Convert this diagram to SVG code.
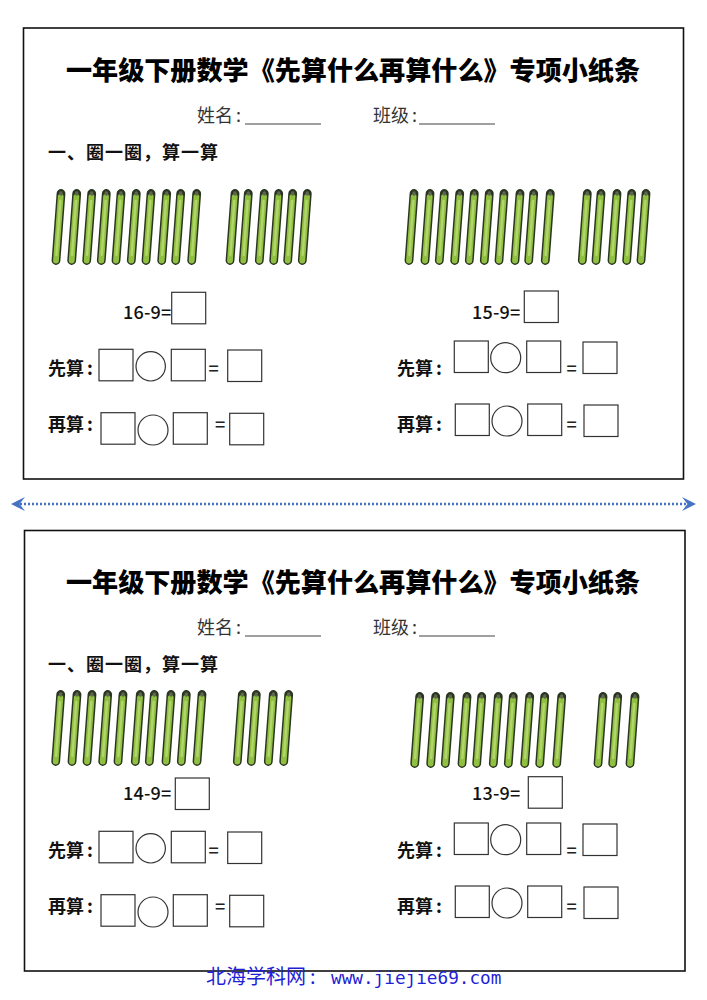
<svg xmlns="http://www.w3.org/2000/svg" width="707" height="1000" viewBox="0 0 707 1000">
<style>
text{font-family:"Noto Sans CJK SC","Noto Sans",sans-serif;fill:#111}
.frame{fill:none;stroke:#111;stroke-width:1.6}
.box{fill:#fff;stroke:#333;stroke-width:1.2}
.title{font-size:26.1px;font-weight:900;fill:#000}
.sub{font-size:18px;fill:#333}
.rule{stroke:#808080;stroke-width:1.7}
.head{font-size:18px;font-weight:700;letter-spacing:1px}
.lab{font-size:18px;font-weight:700}
.eq{font-size:18px;font-weight:500;letter-spacing:.2px;fill:#111}
.eqs{font-size:18px;font-weight:500;fill:#222}
.s1{stroke:#2c3520;stroke-width:8.8;stroke-linecap:round}
.s2{stroke:#90c040;stroke-width:5.8;stroke-linecap:round}
.s3{stroke:#b2d66c;stroke-width:2.4;stroke-linecap:round}
.cap{stroke:#5d6650;stroke-width:3.4;stroke-linecap:round}
</style>
<defs>
<filter id="soft" filterUnits="userSpaceOnUse" x="-16" y="-4" width="32" height="90"><feGaussianBlur stdDeviation=".3"/></filter>
<g id="stick" filter="url(#soft)"><line class="s1" x1="0" y1="4.5" x2="-5" y2="71.5"/><line class="s2" x1="-.3" y1="8" x2="-5" y2="71.5"/><line class="s3" x1="-.7" y1="12" x2="-4.6" y2="66"/><line class="cap" x1="0" y1="4" x2="-.1" y2="5"/></g>
<marker id="chev" viewBox="0 0 14 14" refX="5" refY="7" markerUnits="userSpaceOnUse" markerWidth="14" markerHeight="14" orient="auto-start-reverse"><path d="M0 0 L14 7 L0 14 L5.5 7 Z" fill="#4472c4"/></marker>
</defs>
<rect width="707" height="1000" fill="#fff"/>
<g id="connectors"><line x1="20" y1="504" x2="687" y2="504" stroke="#4472c4" stroke-width="2.4" stroke-dasharray="2 2" marker-start="url(#chev)" marker-end="url(#chev)"/></g>

<g id="card-top">
<rect class="frame" x="23.5" y="28" width="660" height="451"/>
<text class="title" x="66" y="80">一年级下册数学《先算什么再算什么》专项小纸条</text>
<text class="sub" x="197" y="122">姓名<tspan dx="3">:</tspan></text><line class="rule" x1="245" y1="124" x2="321" y2="124"/>
<text class="sub" x="373" y="122">班级<tspan dx="3">:</tspan></text><line class="rule" x1="419" y1="124" x2="495" y2="124"/>
<text class="head" x="48" y="159">一、圈一圈，算一算</text>
</g>
<g id="sticks-16">
<use href="#stick" x="61" y="189"/><use href="#stick" x="76.7" y="189"/><use href="#stick" x="91.7" y="189"/><use href="#stick" x="106.3" y="189"/><use href="#stick" x="121" y="189"/><use href="#stick" x="136.3" y="189"/><use href="#stick" x="151" y="189"/><use href="#stick" x="166.7" y="189"/><use href="#stick" x="180.7" y="189"/><use href="#stick" x="196.7" y="189"/>
<use href="#stick" x="235" y="189"/><use href="#stick" x="248.3" y="189"/><use href="#stick" x="264.3" y="189"/><use href="#stick" x="278.7" y="189"/><use href="#stick" x="292.7" y="189"/><use href="#stick" x="307.3" y="189"/>
</g>
<g id="sticks-15">
<use href="#stick" x="414" y="189"/><use href="#stick" x="430" y="189"/><use href="#stick" x="444.3" y="189"/><use href="#stick" x="459.7" y="189"/><use href="#stick" x="474.3" y="189"/><use href="#stick" x="489.3" y="189"/><use href="#stick" x="504" y="189"/><use href="#stick" x="520" y="189"/><use href="#stick" x="533.7" y="189"/><use href="#stick" x="550.3" y="189"/>
<use href="#stick" x="587.3" y="189"/><use href="#stick" x="601" y="189"/><use href="#stick" x="617" y="189"/><use href="#stick" x="631.7" y="189"/><use href="#stick" x="646" y="189"/>
</g>
<g id="q-16">
<text class="eq" x="123" y="319">16-9=</text><rect class="box" x="171.7" y="292.3" width="34" height="31.5"/>
<text class="lab" x="48" y="375">先算<tspan dx="3">:</tspan></text><rect class="box" x="99" y="349.3" width="34" height="31.5"/><circle class="box" cx="150.7" cy="366.3" r="14.7"/><rect class="box" x="171.3" y="349.3" width="34" height="31.5"/><text class="eqs" x="208.5" y="374.5">=</text><rect class="box" x="227.7" y="350" width="34" height="31.5"/>
<text class="lab" x="48" y="431">再算<tspan dx="3">:</tspan></text><rect class="box" x="101" y="412.7" width="34" height="31.5"/><circle class="box" cx="153" cy="430" r="15"/><rect class="box" x="173.3" y="412.7" width="34" height="31.5"/><text class="eqs" x="215" y="430.5">=</text><rect class="box" x="229.7" y="413.3" width="34" height="31.5"/>
</g>
<g id="q-15">
<text class="eq" x="472" y="319">15-9=</text><rect class="box" x="524.3" y="291" width="34" height="31.5"/>
<text class="lab" x="397" y="375">先算<tspan dx="3">:</tspan></text><rect class="box" x="454.3" y="341" width="34" height="31.5"/><circle class="box" cx="505.7" cy="357.7" r="15"/><rect class="box" x="526.7" y="341" width="34" height="31.5"/><text class="eqs" x="566.5" y="374.5">=</text><rect class="box" x="583" y="342" width="34" height="31.5"/>
<text class="lab" x="397" y="431">再算<tspan dx="3">:</tspan></text><rect class="box" x="455.3" y="404" width="34" height="31.5"/><circle class="box" cx="507" cy="421" r="15"/><rect class="box" x="527.7" y="404" width="34" height="31.5"/><text class="eqs" x="566.5" y="430.5">=</text><rect class="box" x="584" y="405" width="34" height="31.5"/>
</g>

<g id="card-bottom">
<rect class="frame" x="24.5" y="530.5" width="660.5" height="440.5"/>
<text class="title" x="66" y="592">一年级下册数学《先算什么再算什么》专项小纸条</text>
<text class="sub" x="197" y="634">姓名<tspan dx="3">:</tspan></text><line class="rule" x1="245" y1="636" x2="321" y2="636"/>
<text class="sub" x="373" y="634">班级<tspan dx="3">:</tspan></text><line class="rule" x1="419" y1="636" x2="495" y2="636"/>
<text class="head" x="48" y="671">一、圈一圈，算一算</text>
</g>
<g id="sticks-14">
<use href="#stick" x="60.7" y="690"/><use href="#stick" x="77" y="690"/><use href="#stick" x="92" y="690"/><use href="#stick" x="107.7" y="690"/><use href="#stick" x="123" y="690"/><use href="#stick" x="140.3" y="690"/><use href="#stick" x="154.3" y="690"/><use href="#stick" x="171" y="690"/><use href="#stick" x="186.3" y="690"/><use href="#stick" x="202" y="690"/>
<use href="#stick" x="242.3" y="690"/><use href="#stick" x="256.3" y="690"/><use href="#stick" x="273.3" y="690"/><use href="#stick" x="288.7" y="690"/>
</g>
<g id="sticks-13">
<use href="#stick" x="419.7" y="692"/><use href="#stick" x="435.7" y="692"/><use href="#stick" x="450.3" y="692"/><use href="#stick" x="467" y="692"/><use href="#stick" x="481.7" y="692"/><use href="#stick" x="498.3" y="692"/><use href="#stick" x="513.3" y="692"/><use href="#stick" x="529.7" y="692"/><use href="#stick" x="544.7" y="692"/><use href="#stick" x="561.7" y="692"/>
<use href="#stick" x="603" y="692"/><use href="#stick" x="617.7" y="692"/><use href="#stick" x="635" y="692"/>
</g>
<g id="q-14">
<text class="eq" x="123" y="800">14-9=</text><rect class="box" x="175.3" y="778" width="34" height="31.5"/>
<text class="lab" x="48" y="857">先算<tspan dx="3">:</tspan></text><rect class="box" x="99" y="831.3" width="34" height="31.5"/><circle class="box" cx="150.7" cy="848.3" r="14.7"/><rect class="box" x="171.3" y="831.3" width="34" height="31.5"/><text class="eqs" x="208.5" y="856.5">=</text><rect class="box" x="227.7" y="832" width="34" height="31.5"/>
<text class="lab" x="48" y="913">再算<tspan dx="3">:</tspan></text><rect class="box" x="101" y="894.7" width="34" height="31.5"/><circle class="box" cx="153" cy="912" r="15"/><rect class="box" x="173.3" y="894.7" width="34" height="31.5"/><text class="eqs" x="215" y="912.5">=</text><rect class="box" x="229.7" y="895.3" width="34" height="31.5"/>
</g>
<g id="q-13">
<text class="eq" x="472" y="800">13-9=</text><rect class="box" x="528.3" y="776.7" width="34" height="31.5"/>
<text class="lab" x="397" y="857">先算<tspan dx="3">:</tspan></text><rect class="box" x="454.3" y="823" width="34" height="31.5"/><circle class="box" cx="505.7" cy="839.7" r="15"/><rect class="box" x="526.7" y="823" width="34" height="31.5"/><text class="eqs" x="566.5" y="856.5">=</text><rect class="box" x="583" y="824" width="34" height="31.5"/>
<text class="lab" x="397" y="913">再算<tspan dx="3">:</tspan></text><rect class="box" x="455.3" y="886" width="34" height="31.5"/><circle class="box" cx="507" cy="903" r="15"/><rect class="box" x="527.7" y="886" width="34" height="31.5"/><text class="eqs" x="566.5" y="912.5">=</text><rect class="box" x="584" y="887" width="34" height="31.5"/>
</g>
<g id="footer"><text x="206" y="984" style="font-size:20px;fill:#1f1fd6">北海学科网<tspan dx="4">:</tspan></text><text x="331" y="984" style="font-family:'DejaVu Sans Mono',monospace;font-size:17.7px;fill:#1f1fd6">www.jiejie69.com</text></g>
</svg>
